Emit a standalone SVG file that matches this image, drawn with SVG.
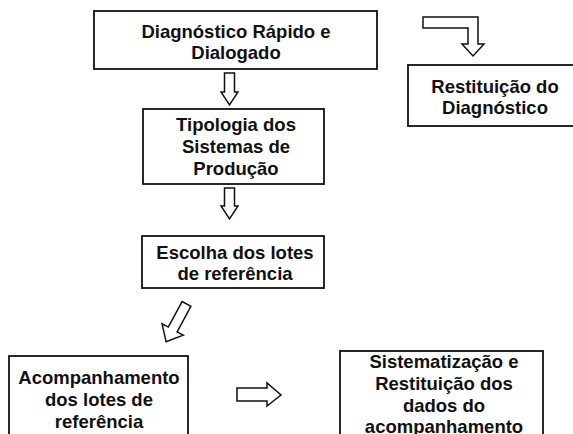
<svg xmlns="http://www.w3.org/2000/svg" width="573" height="434" viewBox="0 0 573 434">
<style>
.box{fill:#fff;stroke:#111;stroke-width:1.8}
.arr{fill:#fff;stroke:#111;stroke-width:1.5;stroke-linejoin:miter}
text{font-family:"Liberation Sans",Arial,sans-serif;font-weight:bold;font-size:18.5px;fill:#111;text-anchor:middle}
</style>
<rect width="573" height="434" fill="#fff"/>
<g id="n1">
<rect class="box" x="94" y="11" width="283" height="58"/>
<text x="236" y="38">Diagnóstico Rápido e</text>
<text x="236" y="59">Dialogado</text>
</g>
<g id="n2">
<rect class="box" x="408" y="65" width="175" height="61"/>
<text x="495" y="93">Restituição do</text>
<text x="495" y="114">Diagnóstico</text>
</g>
<g id="n3">
<rect class="box" x="143" y="109" width="181" height="75"/>
<text x="236" y="131">Tipologia dos</text>
<text x="236" y="153">Sistemas de</text>
<text x="236" y="175">Produção</text>
</g>
<g id="n4">
<rect class="box" x="142" y="236" width="182" height="52"/>
<text x="235" y="259">Escolha dos lotes</text>
<text x="235" y="280">de referência</text>
</g>
<g id="n5">
<rect class="box" x="9" y="356" width="179" height="100"/>
<text x="99" y="384">Acompanhamento</text>
<text x="99" y="406">dos lotes de</text>
<text x="99" y="428">referência</text>
</g>
<g id="n6">
<rect class="box" x="340" y="351" width="203" height="110"/>
<text x="444" y="368">Sistematização e</text>
<text x="444" y="390">Restituição dos</text>
<text x="444" y="412">dados do</text>
<text x="444" y="433">acompanhamento</text>
</g>
<g id="connectors">
<polygon class="arr" points="423,17 478,17 478,44 484,44 473,56 462,44 468,44 468,28 423,28"/>
<polygon class="arr" points="224.5,73 234.5,73 234.5,92 238,92 229.5,105 221,92 224.5,92"/>
<polygon class="arr" points="224.5,188 234.5,188 234.5,206 238,206 229.5,219 221,206 224.5,206"/>
<polygon class="arr" points="190.9,306.4 177.1,331.9 183.3,335.2 166.1,341.8 162.1,323.8 168.3,327.1 182.1,301.6"/>
<polygon class="arr" points="237,388 267,388 267,383 281,395 267,406 267,401 237,401"/>
</g>
</svg>
